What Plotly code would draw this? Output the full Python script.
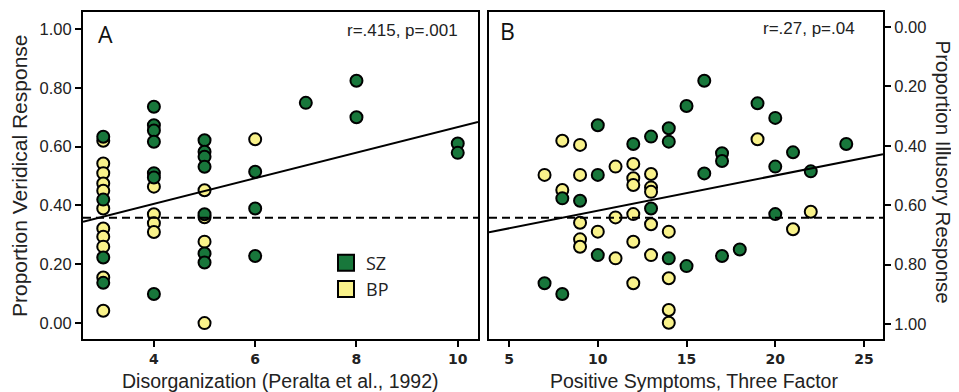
import plotly.graph_objects as go

# reference canvas and page body margin compensation
W, H = 959, 392
OFF = 8  # default <body> margin in the written page

# ---------------- Panel A: Disorganization vs proportion veridical ----------------
a_sz_x = [3, 3, 3, 3,
          4, 4, 4, 4, 4, 4, 4,
          5, 5, 5, 5, 5, 5, 5,
          6, 6, 6,
          7,
          8, 8,
          10, 10]
a_sz_y = [0.634, 0.42, 0.223, 0.137,
          0.736, 0.673, 0.655, 0.617, 0.51, 0.495, 0.099,
          0.622, 0.583, 0.566, 0.532, 0.37, 0.237, 0.206,
          0.515, 0.39, 0.228,
          0.749,
          0.824, 0.70,
          0.611, 0.579]
a_bp_x = [3, 3, 3, 3, 3, 3, 3, 3, 3, 3, 3,
          4, 4, 4, 4,
          5, 5, 5, 5,
          6]
a_bp_y = [0.62, 0.543, 0.51, 0.475, 0.45, 0.39, 0.322, 0.294, 0.26, 0.155, 0.042,
          0.464, 0.37, 0.34, 0.31,
          0.452, 0.36, 0.277, 0.0,
          0.625]

# ---------------- Panel B: Positive symptoms vs proportion illusory ----------------
b_sz_x = [7, 8, 8, 9, 10, 10, 10, 12, 13, 13, 14, 14, 14, 15, 15, 16, 16,
          17, 17, 17, 18, 19, 20, 20, 20, 21, 22, 24]
b_sz_y = [0.863, 0.577, 0.899, 0.585, 0.331, 0.498, 0.768, 0.394, 0.369, 0.611,
          0.341, 0.386, 0.779, 0.266, 0.805, 0.181, 0.493,
          0.425, 0.451, 0.771, 0.749, 0.257, 0.306, 0.47, 0.63, 0.422, 0.486, 0.394]
b_bp_x = [7, 8, 8, 9, 9, 9, 9, 9, 10, 11, 11, 11,
          12, 12, 12, 12, 12, 12, 13, 13, 13, 13, 13,
          14, 14, 14, 14, 19, 21, 22]
b_bp_y = [0.498, 0.383, 0.549, 0.397, 0.498, 0.659, 0.715, 0.740, 0.689, 0.47, 0.641, 0.779,
          0.461, 0.509, 0.532, 0.63, 0.723, 0.863, 0.495, 0.54, 0.555, 0.664, 0.768,
          0.689, 0.846, 0.953, 0.996, 0.378, 0.681, 0.622]

# regression fits (intercept, slope)
fit_a = (0.231, 0.0436)        # veridical ~ disorganization
fit_b = (0.737, -0.01185)      # illusory ~ positive symptoms
reference_veridical = 0.358    # dashed reference level

stats_a = "r=.415, p=.001"
stats_b = "r=.27, p=.04"
a_xticks = [4, 6, 8, 10]
b_xticks = [5, 10, 15, 20, 25]
y_ticks = [0.0, 0.2, 0.4, 0.6, 0.8, 1.0]

a_xrange = [2.6, 10.4]
b_xrange = [3.87, 26.07]

GREEN = "#18773B"
YELLOW = "#F9F28A"

FW, FH = W - OFF, H - OFF


def px(x):
    return (x - OFF) / FW


def py(y):
    return 1 - (y - OFF) / FH


marker_common = dict(size=12, line=dict(color="black", width=2))

fig = go.Figure()

# Panel A
fig.add_trace(go.Scatter(x=a_bp_x, y=a_bp_y, mode="markers", xaxis="x", yaxis="y",
                         marker=dict(color=YELLOW, **marker_common), name="BP",
                         showlegend=False))
fig.add_trace(go.Scatter(x=a_sz_x, y=a_sz_y, mode="markers", xaxis="x", yaxis="y",
                         marker=dict(color=GREEN, **marker_common), name="SZ",
                         showlegend=False))
fig.add_trace(go.Scatter(x=a_xrange, y=[fit_a[0] + fit_a[1] * v for v in a_xrange],
                         mode="lines", xaxis="x", yaxis="y",
                         line=dict(color="black", width=2), showlegend=False))
fig.add_trace(go.Scatter(x=a_xrange, y=[reference_veridical] * 2, mode="lines",
                         xaxis="x", yaxis="y",
                         line=dict(color="black", width=2, dash="8px,5px"), showlegend=False))

# Panel B
fig.add_trace(go.Scatter(x=b_bp_x, y=b_bp_y, mode="markers", xaxis="x2", yaxis="y2",
                         marker=dict(color=YELLOW, **marker_common), showlegend=False))
fig.add_trace(go.Scatter(x=b_sz_x, y=b_sz_y, mode="markers", xaxis="x2", yaxis="y2",
                         marker=dict(color=GREEN, **marker_common), showlegend=False))
fig.add_trace(go.Scatter(x=b_xrange, y=[fit_b[0] + fit_b[1] * v for v in b_xrange],
                         mode="lines", xaxis="x2", yaxis="y2",
                         line=dict(color="black", width=2), showlegend=False))
fig.add_trace(go.Scatter(x=b_xrange, y=[1 - reference_veridical] * 2, mode="lines",
                         xaxis="x2", yaxis="y2",
                         line=dict(color="black", width=2, dash="8px,5px"), showlegend=False))

# Legend entries
fig.add_trace(go.Scatter(x=[None], y=[None], mode="markers", xaxis="x", yaxis="y",
                         marker=dict(symbol="square", size=16, color=GREEN,
                                     line=dict(color="black", width=2)),
                         name="SZ", legendrank=1))
fig.add_trace(go.Scatter(x=[None], y=[None], mode="markers", xaxis="x", yaxis="y",
                         marker=dict(symbol="square", size=16, color=YELLOW,
                                     line=dict(color="black", width=2)),
                         name="BP", legendrank=2))

tickfont_y = dict(family="Liberation Sans, Arial", size=16.5, color="#222")
tickfont_x = dict(family="DejaVu Sans", size=14, color="#222", weight="bold")

axis_common = dict(showgrid=False, zeroline=False, showline=True, linecolor="black",
                   linewidth=2, ticks="outside", ticklen=6, tickwidth=2,
                   tickcolor="black", mirror=True, automargin=False)

fig.update_layout(
    width=FW, height=FH,
    margin=dict(l=0, r=0, t=0, b=0),
    paper_bgcolor="white", plot_bgcolor="white",
    xaxis=dict(domain=[px(83), px(478)], range=a_xrange, tickvals=a_xticks,
               tickfont=tickfont_x, anchor="y", **axis_common),
    yaxis=dict(domain=[py(339), py(12)], range=[-0.054, 1.058], tickvals=y_ticks,
               tickformat=".2f", tickfont=tickfont_y, anchor="x", **axis_common),
    xaxis2=dict(domain=[px(489), px(883)], range=b_xrange, tickvals=b_xticks,
                tickfont=tickfont_x, anchor="y2", **axis_common),
    yaxis2=dict(domain=[py(339), py(12)], range=[1.0505, -0.0505], tickvals=y_ticks,
                tickformat=".2f", tickfont=tickfont_y, anchor="x2", side="right",
                **axis_common),
    showlegend=True,
    legend=dict(x=px(326), y=py(276), xanchor="left", yanchor="middle",
                bgcolor="rgba(0,0,0,0)", font=dict(family="Open Sans", size=18, color="#222"),
                itemsizing="trace"),
)

title_font = dict(family="Liberation Sans, Arial", color="#222")
ann = [
    dict(text="Proportion Veridical Response", x=px(19.5), y=py(175.5), textangle=-90,
         font=dict(size=21, **title_font)),
    dict(text="Proportion Illusory Response", x=px(943), y=py(171.5), textangle=90,
         font=dict(size=20.5, **title_font)),
    dict(text="Disorganization (Peralta et al., 1992)", x=px(280), y=py(381),
         font=dict(size=19.5, **title_font)),
    dict(text="Positive Symptoms, Three Factor", x=px(693.5), y=py(381),
         font=dict(size=19.5, **title_font)),
    dict(text="A", x=px(105), y=py(33.5), font=dict(family="Open Sans", size=23, color="#111")),
    dict(text="B", x=px(508), y=py(31.5), font=dict(family="Open Sans", size=23, color="#111")),
    dict(text=stats_a, x=px(460), y=py(30.5), xanchor="right",
         font=dict(size=17, **title_font)),
    dict(text=stats_b, x=px(857), y=py(28), xanchor="right",
         font=dict(size=17, **title_font)),
]
for a in ann:
    a.setdefault("xanchor", "center")
    fig.add_annotation(xref="paper", yref="paper", yanchor="middle", showarrow=False, **a)

fig.write_html("out.html")
